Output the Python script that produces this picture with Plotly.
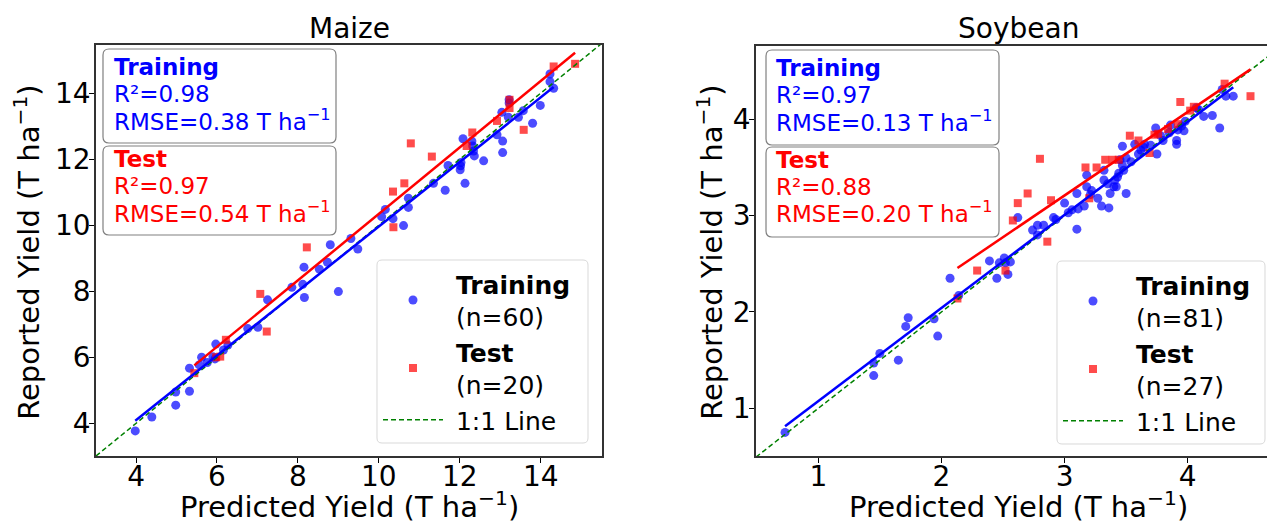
import numpy as np
import plotly.graph_objects as go

# ---------------- data ----------------
maize_train_pred = [3.98, 4.39, 4.98, 4.98, 5.32, 5.32, 5.56, 5.62, 5.76, 5.95,
                    5.97, 6.16, 6.27, 6.76, 7.01, 7.25, 7.85, 8.12, 8.15, 8.16,
                    8.53, 8.73, 8.80, 9.00, 9.31, 9.48, 10.07, 10.16, 10.35, 10.61,
                    10.73, 10.73, 11.35, 11.64, 11.71, 12.01, 12.03, 12.08, 12.13, 12.30,
                    12.32, 12.34, 12.36, 12.59, 12.92, 13.06, 13.06, 13.04, 13.22, 13.20,
                    13.45, 13.57, 13.80, 13.99, 14.23, 14.23, 14.32, 5.90, 12.02, 13.22]
maize_train_obs = [3.77, 4.19, 4.55, 4.95, 4.97, 5.67, 5.77, 6.00, 5.84, 5.95,
                   6.40, 6.22, 6.37, 6.87, 6.91, 7.74, 8.12, 8.21, 8.73, 7.81,
                   8.67, 8.88, 9.41, 7.99, 9.60, 9.28, 10.26, 10.48, 10.20, 9.99,
                   10.82, 10.54, 11.27, 11.06, 11.81, 11.68, 11.90, 12.62, 11.27, 12.55,
                   12.40, 12.25, 12.10, 11.95, 12.74, 12.55, 12.20, 13.42, 13.80, 13.27,
                   13.27, 13.47, 13.09, 13.63, 14.58, 14.35, 14.15, 6.02, 11.80, 13.70]
maize_test_pred = [5.44, 6.08, 6.22, 7.07, 7.23, 8.22, 10.35, 10.36, 10.63, 10.79,
                   11.31, 12.17, 12.31, 12.92, 13.23, 13.23, 13.58, 14.32, 14.85, 5.98]
maize_test_obs = [5.52, 6.02, 6.53, 7.92, 6.78, 9.33, 11.02, 9.94, 11.27, 12.48,
                  12.08, 12.40, 12.81, 13.16, 13.55, 13.80, 12.89, 14.81, 14.89, 6.00]

soy_train_pred = [0.73, 1.45, 1.45, 1.50, 1.65, 1.71, 1.73, 1.94, 1.97, 2.07,
                  2.14, 2.39, 2.45, 2.47, 2.51, 2.52, 2.54, 2.62, 2.74, 2.78,
                  2.78, 2.83, 2.91, 2.93, 3.00, 3.03, 3.10, 3.10, 3.11, 3.16,
                  3.18, 3.18, 3.21, 3.27, 3.30, 3.32, 3.32, 3.36, 3.37, 3.40,
                  3.41, 3.42, 3.44, 3.45, 3.47, 3.48, 3.50, 3.50, 3.57, 3.60,
                  3.64, 3.65, 3.74, 3.75, 3.78, 3.80, 3.86, 3.91, 3.91, 3.92,
                  3.97, 3.98, 4.07, 4.13, 4.20, 4.26, 4.28, 4.31, 4.37, 4.09,
                  3.43, 3.47, 3.35, 3.22, 3.62, 3.85, 3.95, 2.56, 3.06, 3.54, 3.70]
soy_train_obs = [0.75, 1.34, 1.47, 1.57, 1.50, 1.85, 1.94, 1.93, 1.75, 2.35,
                 2.17, 2.53, 2.35, 2.51, 2.56, 2.51, 2.39, 2.98, 2.85, 2.90,
                 2.80, 2.90, 2.98, 2.96, 3.13, 3.03, 2.86, 3.23, 3.07, 3.10,
                 3.30, 3.42, 3.22, 3.18, 3.10, 3.47, 3.37, 3.08, 3.23, 3.30,
                 3.37, 3.30, 3.44, 3.58, 3.72, 3.47, 3.60, 3.23, 3.74, 3.64,
                 3.71, 3.74, 3.91, 3.64, 3.83, 3.78, 3.94, 3.78, 3.74, 3.89,
                 3.88, 3.98, 4.12, 4.03, 4.04, 3.91, 4.31, 4.24, 4.24, 4.10,
                 3.40, 3.52, 3.33, 3.26, 3.68, 3.86, 3.93, 2.52, 3.06, 3.56, 3.73]
soy_test_pred = [2.13, 2.29, 2.52, 2.58, 2.62, 2.70, 2.80, 2.86, 2.89, 3.17,
                 3.20, 3.26, 3.33, 3.39, 3.44, 3.53, 3.60, 3.69, 3.73, 3.76,
                 3.84, 3.94, 4.02, 4.05, 4.30, 4.51, 3.92]
soy_test_obs = [2.14, 2.43, 2.43, 2.95, 3.13, 3.23, 3.59, 2.73, 3.16, 3.50,
                3.18, 3.50, 3.58, 3.58, 3.58, 3.83, 3.78, 3.65, 3.84, 3.85,
                3.90, 4.18, 4.09, 4.13, 4.37, 4.24, 3.95]

crops = ["Maize", "Soybean"]
maize_stats = {"train": ("0.98", "0.38"), "test": ("0.97", "0.54")}
soy_stats = {"train": ("0.97", "0.13"), "test": ("0.88", "0.20")}
maize_ticks = [4, 6, 8, 10, 12, 14]
soy_ticks = [1, 2, 3, 4]

# ---------------- layout helpers ----------------
W, H = 1267, 527
FONT = "DejaVu Sans"
BLUE = "#0000ff"
RED = "#ff0000"
PAD = "\u00a0"  # small indent between legend symbol and its label


def fx(p):
    return p / W


def fy(p):
    return 1 - p / H


def rounded_box(x0, y0, x1, y1, r=5):
    pts = [("M", x0 + r, y0), ("L", x1 - r, y0), ("Q", x1, y0, x1, y0 + r),
           ("L", x1, y1 - r), ("Q", x1, y1, x1 - r, y1), ("L", x0 + r, y1),
           ("Q", x0, y1, x0, y1 - r), ("L", x0, y0 + r), ("Q", x0, y0, x0 + r, y0)]
    out = []
    for seg in pts:
        cmd, vals = seg[0], seg[1:]
        coords = []
        for i in range(0, len(vals), 2):
            coords.append(f"{fx(vals[i]):.5f},{fy(vals[i + 1]):.5f}")
        out.append(cmd + " " + " ".join(coords))
    return " ".join(out) + " Z"


def fit_line(x, y):
    x = np.asarray(x)
    y = np.asarray(y)
    slope, icpt = np.polyfit(x, y, 1)
    xs = np.array([x.min(), x.max()])
    return xs, slope * xs + icpt


fig = go.Figure()

panels = [
    dict(xa="x", ya="y", leg="legend", tp=maize_train_pred, to=maize_train_obs,
         sp=maize_test_pred, so=maize_test_obs, rng=(3.01, 15.5)),
    dict(xa="x2", ya="y2", leg="legend2", tp=soy_train_pred, to=soy_train_obs,
         sp=soy_test_pred, so=soy_test_obs, rng=(0.494, 4.76)),
]

for p in panels:
    n_tr, n_te = len(p["tp"]), len(p["sp"])
    fig.add_trace(go.Scatter(
        x=p["tp"], y=p["to"], mode="markers", xaxis=p["xa"], yaxis=p["ya"],
        marker=dict(color=BLUE, opacity=0.7, size=9, symbol="circle"),
        name=f"{PAD}<b>Training</b><br>{PAD}(n={n_tr})", legend=p["leg"],
        legendgroup=p["leg"] + "a"))
    fig.add_trace(go.Scatter(
        x=p["sp"], y=p["so"], mode="markers", xaxis=p["xa"], yaxis=p["ya"],
        marker=dict(color=RED, opacity=0.7, size=8, symbol="square"),
        name=f"{PAD}<b>Test</b><br>{PAD}(n={n_te})", legend=p["leg"],
        legendgroup=p["leg"] + "b"))
    lo, hi = p["rng"]
    fig.add_trace(go.Scatter(
        x=[lo, hi + 1], y=[lo, hi + 1], mode="lines", xaxis=p["xa"], yaxis=p["ya"],
        line=dict(color="green", width=1.5, dash="5px,3px"),
        name=f"{PAD}1:1 Line", legend=p["leg"], legendgroup=p["leg"] + "c"))
    xs, ys = fit_line(p["tp"], p["to"])
    fig.add_trace(go.Scatter(x=xs, y=ys, mode="lines", xaxis=p["xa"], yaxis=p["ya"],
                             line=dict(color=BLUE, width=2.5), showlegend=False))
    xs, ys = fit_line(p["sp"], p["so"])
    fig.add_trace(go.Scatter(x=xs, y=ys, mode="lines", xaxis=p["xa"], yaxis=p["ya"],
                             line=dict(color=RED, width=2.5), showlegend=False))

axis_common = dict(showgrid=False, zeroline=False, ticks="outside", ticklen=5,
                   tickwidth=1.2, tickcolor="black", showline=True,
                   linecolor="#333333", linewidth=1.5,
                   tickfont=dict(family=FONT, size=28, color="black"))

fig.update_layout(
    width=W, height=H, margin=dict(l=0, r=0, t=0, b=0),
    paper_bgcolor="white", plot_bgcolor="white",
    font=dict(family=FONT, color="black"),
    xaxis=dict(domain=[fx(96), fx(602)], range=[3.01, 15.515], tickvals=maize_ticks,
               mirror=True, anchor="y", ticklabelstandoff=-10, **axis_common),
    yaxis=dict(domain=[fy(456), fy(45)], range=[3.01, 15.46], tickvals=maize_ticks,
               mirror=True, anchor="x", ticklabelstandoff=-7, **axis_common),
    xaxis2=dict(domain=[fx(756), 1.0], range=[0.494, 4.644], tickvals=soy_ticks,
                mirror=True, anchor="y2", ticklabelstandoff=-10, **axis_common),
    yaxis2=dict(domain=[fy(456), fy(46)], range=[0.505, 4.761], tickvals=soy_ticks,
                mirror=False, anchor="x2", ticklabelstandoff=-7, **axis_common),
    showlegend=True,
)

legend_common = dict(xanchor="left", yanchor="top", bgcolor="rgba(0,0,0,0)",
                     borderwidth=0, font=dict(family=FONT, size=25, color="black"),
                     itemsizing="trace", tracegroupgap=0, itemwidth=60)
fig.update_layout(
    legend=dict(x=fx(378), y=fy(261), **legend_common),
    legend2=dict(x=fx(1058), y=fy(262), **legend_common),
)

shapes = []
annotations = []

# legend frames
for (x0, y0, x1, y1) in [(377, 260, 588, 443), (1057, 261, 1265, 444)]:
    shapes.append(dict(type="path", xref="paper", yref="paper",
                       path=rounded_box(x0, y0, x1, y1, 5),
                       line=dict(color="#d9d9d9", width=1),
                       fillcolor="rgba(255,255,255,0.8)", layer="below"))

# statistics boxes
box_specs = [
    (103, 112, maize_stats, (49, 143), (146, 235), [76, 103, 131], [168, 195, 223]),
    (766, 774, soy_stats, (50, 145), (147, 237), [77, 104, 132], [169, 196, 223]),
]
FS = 23
for left, tx, stats, tr_box, te_box, tr_base, te_base in box_specs:
    for (top, bot) in (tr_box, te_box):
        shapes.append(dict(type="path", xref="paper", yref="paper",
                           path=rounded_box(left, top, left + 233, bot, 6),
                           line=dict(color="#808080", width=1.2),
                           fillcolor="rgba(255,255,255,0.8)", layer="above"))
    for label, key, color, bases in (("Training", "train", BLUE, tr_base),
                                     ("Test", "test", RED, te_base)):
        r2, rmse = stats[key]
        lines = [f"<b>{label}</b>", f"R²={r2}", f"RMSE={rmse} T ha<sup>−1</sup>"]
        for txt, base in zip(lines, bases):
            annotations.append(dict(
                text=txt, xref="paper", yref="paper", x=fx(tx),
                y=fy(base + 0.236 * FS + 1), xanchor="left", yanchor="bottom",
                showarrow=False, font=dict(family=FONT, size=FS, color=color)))

# panel titles and axis titles
for name, cx, ylab_x in ((crops[0], 349, 40), (crops[1], 1018, 723)):
    annotations.append(dict(text=name, xref="paper", yref="paper", x=fx(cx),
                            y=fy(39 + 0.236 * 28 + 1), xanchor="center", yanchor="bottom",
                            showarrow=False, font=dict(family=FONT, size=28, color="black")))
    annotations.append(dict(text="Predicted Yield (T ha<sup>−1</sup>)", xref="paper",
                            yref="paper", x=fx(cx), y=fy(518 + 0.236 * 29 + 1),
                            xanchor="center", yanchor="bottom", showarrow=False,
                            font=dict(family=FONT, size=29, color="black")))
    annotations.append(dict(text="Reported Yield (T ha<sup>−1</sup>)", xref="paper",
                            yref="paper", x=fx(ylab_x + 0.236 * 29 + 1), y=fy(252),
                            xanchor="right", yanchor="middle", textangle=-90,
                            showarrow=False, font=dict(family=FONT, size=29, color="black")))

fig.update_layout(shapes=shapes, annotations=annotations)

fig.write_html("out.html")
